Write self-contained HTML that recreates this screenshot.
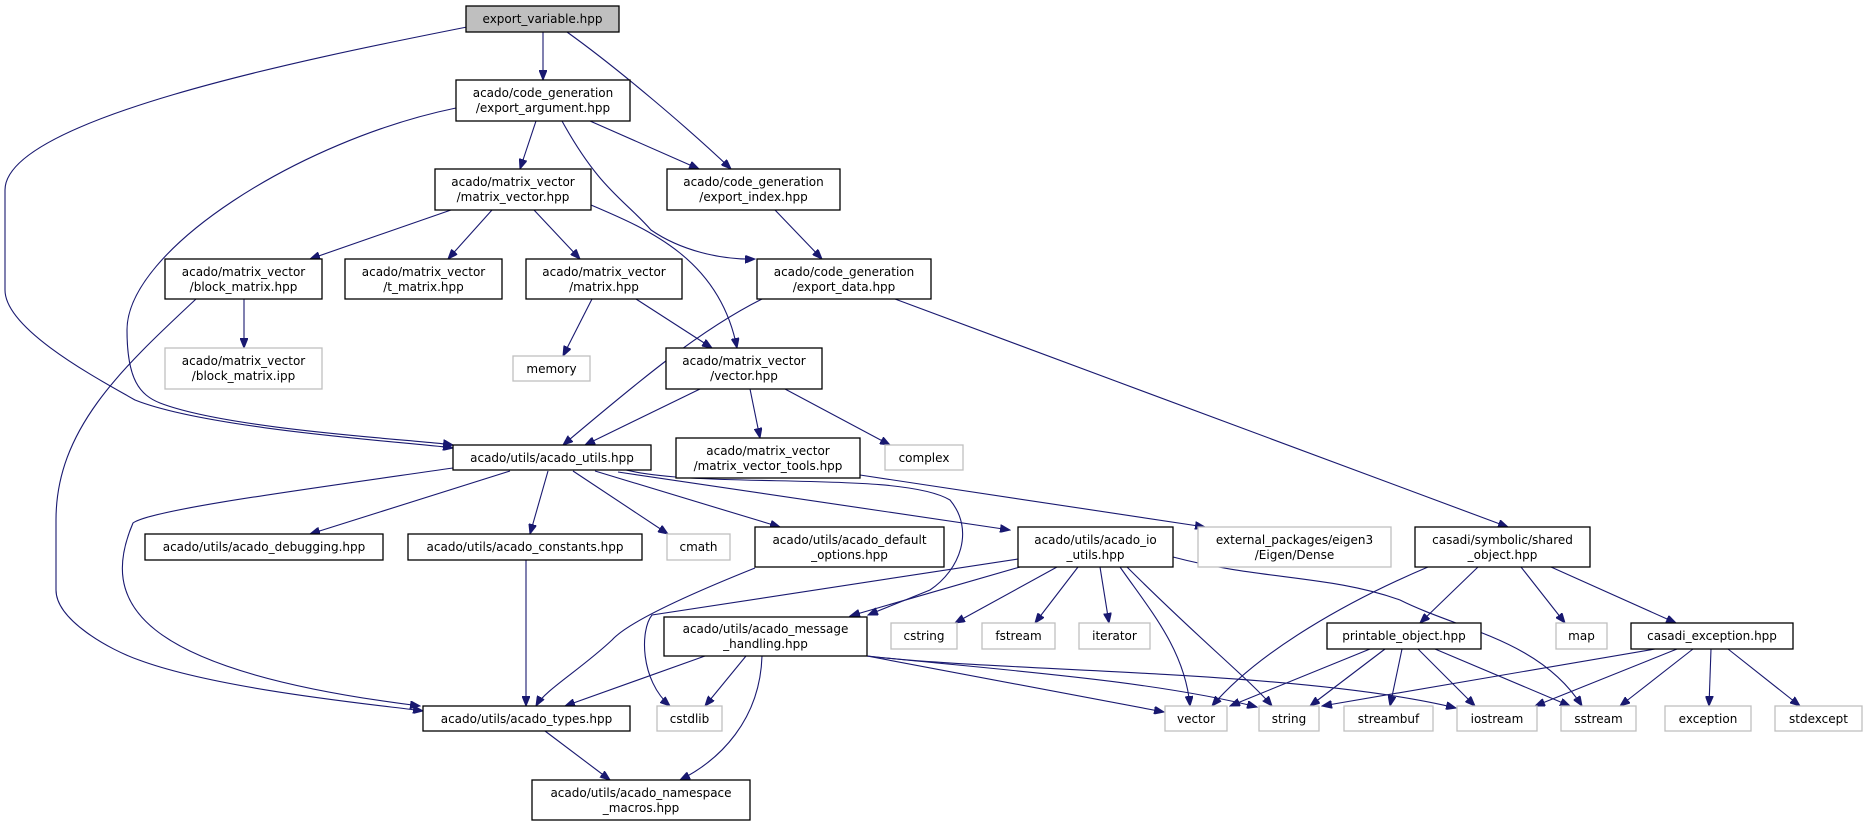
<!DOCTYPE html>
<html><head><meta charset="utf-8"><style>
html,body{margin:0;padding:0;background:#fff;}
svg{display:block;}
text{font-family:"DejaVu Sans","Liberation Sans",sans-serif;font-size:12px;fill:#000;}
.n{fill:#fff;stroke:#000;stroke-width:1.3;}
.g{fill:#fff;stroke:#bfbfbf;stroke-width:1.3;}
.e{fill:none;stroke:#191970;stroke-width:1.1;}
</style></head><body>
<svg width="1867" height="827" viewBox="0 0 1867 827" xmlns="http://www.w3.org/2000/svg">
<defs><marker id="a" markerWidth="11" markerHeight="8" refX="10" refY="4" orient="auto" markerUnits="userSpaceOnUse"><path d="M0,0 L10,4 L0,8 z" fill="#191970" stroke="#191970"/></marker></defs>
<g class="edges" marker-end="url(#a)">
<path class="e" marker-end="url(#a)" d="M543,32 L543,80"/>
<path class="e" marker-end="url(#a)" d="M567,32 C620,70 690,130 731,169"/>
<path class="e" marker-end="url(#a)" d="M467,27 C300,60 5,120 5,190 L5,290 C5,330 100,380 135,400 C210,430 420,443 453,448"/>
<path class="e" marker-end="url(#a)" d="M456,108 C300,140 127,250 127,330 C127,380 140,395 160,403 C230,430 420,440 453,445"/>
<path class="e" marker-end="url(#a)" d="M536,121 L520,169"/>
<path class="e" marker-end="url(#a)" d="M590,121 L699,169"/>
<path class="e" marker-end="url(#a)" d="M562,121 C600,190 625,200 651,230 C680,250 720,260 755,259"/>
<path class="e" marker-end="url(#a)" d="M451,210 L310,259"/>
<path class="e" marker-end="url(#a)" d="M492,210 L448,259"/>
<path class="e" marker-end="url(#a)" d="M534,210 L580,259"/>
<path class="e" marker-end="url(#a)" d="M591,205 C650,230 720,260 737,348"/>
<path class="e" marker-end="url(#a)" d="M775,210 L822,259"/>
<path class="e" marker-end="url(#a)" d="M592,299 L563,356"/>
<path class="e" marker-end="url(#a)" d="M636,299 L712,348"/>
<path class="e" marker-end="url(#a)" d="M244,299 L244,348"/>
<path class="e" marker-end="url(#a)" d="M196,299 C120,370 56,430 56,520 L56,590 C56,620 110,650 139,660 C220,690 380,705 423,711"/>
<path class="e" marker-end="url(#a)" d="M762,299 C700,330 640,380 563,445"/>
<path class="e" marker-end="url(#a)" d="M895,299 L1508,527"/>
<path class="e" marker-end="url(#a)" d="M700,389 L585,445"/>
<path class="e" marker-end="url(#a)" d="M750,389 L760,438"/>
<path class="e" marker-end="url(#a)" d="M785,389 L890,445"/>
<path class="e" marker-end="url(#a)" d="M510,471 L310,534"/>
<path class="e" marker-end="url(#a)" d="M548,471 L530,534"/>
<path class="e" marker-end="url(#a)" d="M573,471 L668,534"/>
<path class="e" marker-end="url(#a)" d="M595,471 L780,527"/>
<path class="e" marker-end="url(#a)" d="M618,472 L1010,530"/>
<path class="e" marker-end="url(#a)" d="M622,469 C700,490 900,470 950,500 C975,530 960,570 930,590 L868,615"/>
<path class="e" marker-end="url(#a)" d="M453,468 C300,490 150,510 133,523 C100,600 130,670 420,706"/>
<path class="e" marker-end="url(#a)" d="M860,475 L1205,527"/>
<path class="e" marker-end="url(#a)" d="M526,560 L526,706"/>
<path class="e" marker-end="url(#a)" d="M755,568 C700,590 630,620 612,640 C580,670 545,690 536,706"/>
<path class="e" marker-end="url(#a)" d="M1018,559 L652,615 C640,630 640,680 670,706"/>
<path class="e" marker-end="url(#a)" d="M1020,567 L850,616"/>
<path class="e" marker-end="url(#a)" d="M1057,567 L955,623"/>
<path class="e" marker-end="url(#a)" d="M1078,567 L1035,623"/>
<path class="e" marker-end="url(#a)" d="M1100,567 L1109,623"/>
<path class="e" marker-end="url(#a)" d="M1120,567 C1150,610 1185,650 1190,706"/>
<path class="e" marker-end="url(#a)" d="M1127,567 C1200,640 1250,680 1272,706"/>
<path class="e" marker-end="url(#a)" d="M1173,557 C1260,580 1330,575 1400,600 C1460,630 1540,640 1582,706"/>
<path class="e" marker-end="url(#a)" d="M1428,567 C1350,600 1260,650 1212,706"/>
<path class="e" marker-end="url(#a)" d="M1478,567 L1420,623"/>
<path class="e" marker-end="url(#a)" d="M1521,567 L1565,623"/>
<path class="e" marker-end="url(#a)" d="M1551,567 L1676,623"/>
<path class="e" marker-end="url(#a)" d="M1370,649 L1230,706"/>
<path class="e" marker-end="url(#a)" d="M1385,649 L1310,706"/>
<path class="e" marker-end="url(#a)" d="M1402,649 L1390,706"/>
<path class="e" marker-end="url(#a)" d="M1418,649 L1475,706"/>
<path class="e" marker-end="url(#a)" d="M1435,649 L1570,706"/>
<path class="e" marker-end="url(#a)" d="M1655,649 L1322,706"/>
<path class="e" marker-end="url(#a)" d="M1677,649 L1535,706"/>
<path class="e" marker-end="url(#a)" d="M1693,649 L1620,706"/>
<path class="e" marker-end="url(#a)" d="M1711,649 L1709,706"/>
<path class="e" marker-end="url(#a)" d="M1728,649 L1800,706"/>
<path class="e" marker-end="url(#a)" d="M705,656 L565,706"/>
<path class="e" marker-end="url(#a)" d="M746,656 L705,706"/>
<path class="e" marker-end="url(#a)" d="M762,656 C760,720 720,760 680,780"/>
<path class="e" marker-end="url(#a)" d="M545,731 L610,780"/>
<path class="e" marker-end="url(#a)" d="M867,656 L1164,712"/>
<path class="e" marker-end="url(#a)" d="M867,656 C1000,670 1150,680 1257,707"/>
<path class="e" marker-end="url(#a)" d="M867,656 C1000,672 1300,670 1456,708"/>
</g>
<g>
<rect x="466" y="6" width="153" height="26" fill="#bfbfbf" stroke="#000" stroke-width="1.3"/><text x="542.5" y="23" text-anchor="middle">export_variable.hpp</text>
<rect class="n" x="456" y="80" width="174" height="41"/><text x="543" y="97" text-anchor="middle">acado/code_generation</text><text x="543" y="112" text-anchor="middle">/export_argument.hpp</text>
<rect class="n" x="435" y="169" width="156" height="41"/><text x="513" y="186" text-anchor="middle">acado/matrix_vector</text><text x="513" y="201" text-anchor="middle">/matrix_vector.hpp</text>
<rect class="n" x="667" y="169" width="173" height="41"/><text x="753.5" y="186" text-anchor="middle">acado/code_generation</text><text x="753.5" y="201" text-anchor="middle">/export_index.hpp</text>
<rect class="n" x="165" y="259" width="157" height="40"/><text x="243.5" y="276" text-anchor="middle">acado/matrix_vector</text><text x="243.5" y="291" text-anchor="middle">/block_matrix.hpp</text>
<rect class="n" x="345" y="259" width="157" height="40"/><text x="423.5" y="276" text-anchor="middle">acado/matrix_vector</text><text x="423.5" y="291" text-anchor="middle">/t_matrix.hpp</text>
<rect class="n" x="526" y="259" width="156" height="40"/><text x="604" y="276" text-anchor="middle">acado/matrix_vector</text><text x="604" y="291" text-anchor="middle">/matrix.hpp</text>
<rect class="n" x="757" y="259" width="174" height="40"/><text x="844" y="276" text-anchor="middle">acado/code_generation</text><text x="844" y="291" text-anchor="middle">/export_data.hpp</text>
<rect class="g" x="165" y="348" width="157" height="41"/><text x="243.5" y="365" text-anchor="middle">acado/matrix_vector</text><text x="243.5" y="380" text-anchor="middle">/block_matrix.ipp</text>
<rect class="g" x="513" y="356" width="77" height="25"/><text x="551.5" y="373" text-anchor="middle">memory</text>
<rect class="n" x="666" y="348" width="156" height="41"/><text x="744" y="365" text-anchor="middle">acado/matrix_vector</text><text x="744" y="380" text-anchor="middle">/vector.hpp</text>
<rect class="n" x="453" y="445" width="198" height="25"/><text x="552" y="462" text-anchor="middle">acado/utils/acado_utils.hpp</text>
<rect class="n" x="676" y="438" width="184" height="40"/><text x="768" y="455" text-anchor="middle">acado/matrix_vector</text><text x="768" y="470" text-anchor="middle">/matrix_vector_tools.hpp</text>
<rect class="g" x="885" y="445" width="78" height="25"/><text x="924" y="462" text-anchor="middle">complex</text>
<rect class="n" x="145" y="534" width="238" height="26"/><text x="264" y="551" text-anchor="middle">acado/utils/acado_debugging.hpp</text>
<rect class="n" x="408" y="534" width="234" height="26"/><text x="525" y="551" text-anchor="middle">acado/utils/acado_constants.hpp</text>
<rect class="g" x="667" y="534" width="63" height="26"/><text x="698.5" y="551" text-anchor="middle">cmath</text>
<rect class="n" x="755" y="527" width="189" height="40"/><text x="849.5" y="544" text-anchor="middle">acado/utils/acado_default</text><text x="849.5" y="559" text-anchor="middle">_options.hpp</text>
<rect class="n" x="1018" y="527" width="155" height="40"/><text x="1095.5" y="544" text-anchor="middle">acado/utils/acado_io</text><text x="1095.5" y="559" text-anchor="middle">_utils.hpp</text>
<rect class="g" x="1198" y="527" width="193" height="40"/><text x="1294.5" y="544" text-anchor="middle">external_packages/eigen3</text><text x="1294.5" y="559" text-anchor="middle">/Eigen/Dense</text>
<rect class="n" x="1415" y="527" width="175" height="40"/><text x="1502.5" y="544" text-anchor="middle">casadi/symbolic/shared</text><text x="1502.5" y="559" text-anchor="middle">_object.hpp</text>
<rect class="n" x="664" y="617" width="203" height="39"/><text x="765.5" y="633" text-anchor="middle">acado/utils/acado_message</text><text x="765.5" y="648" text-anchor="middle">_handling.hpp</text>
<rect class="g" x="891" y="623" width="66" height="26"/><text x="924" y="640" text-anchor="middle">cstring</text>
<rect class="g" x="982" y="623" width="73" height="26"/><text x="1018.5" y="640" text-anchor="middle">fstream</text>
<rect class="g" x="1079" y="623" width="71" height="26"/><text x="1114.5" y="640" text-anchor="middle">iterator</text>
<rect class="n" x="1327" y="623" width="154" height="26"/><text x="1404" y="640" text-anchor="middle">printable_object.hpp</text>
<rect class="g" x="1556" y="623" width="51" height="26"/><text x="1581.5" y="640" text-anchor="middle">map</text>
<rect class="n" x="1631" y="623" width="162" height="26"/><text x="1712" y="640" text-anchor="middle">casadi_exception.hpp</text>
<rect class="n" x="423" y="706" width="207" height="25"/><text x="526.5" y="723" text-anchor="middle">acado/utils/acado_types.hpp</text>
<rect class="g" x="657" y="706" width="65" height="25"/><text x="689.5" y="723" text-anchor="middle">cstdlib</text>
<rect class="g" x="1165" y="706" width="62" height="25"/><text x="1196" y="723" text-anchor="middle">vector</text>
<rect class="g" x="1259" y="706" width="60" height="25"/><text x="1289" y="723" text-anchor="middle">string</text>
<rect class="g" x="1344" y="706" width="89" height="25"/><text x="1388.5" y="723" text-anchor="middle">streambuf</text>
<rect class="g" x="1457" y="706" width="80" height="25"/><text x="1497" y="723" text-anchor="middle">iostream</text>
<rect class="g" x="1561" y="706" width="75" height="25"/><text x="1598.5" y="723" text-anchor="middle">sstream</text>
<rect class="g" x="1665" y="706" width="86" height="25"/><text x="1708" y="723" text-anchor="middle">exception</text>
<rect class="g" x="1775" y="706" width="87" height="25"/><text x="1818.5" y="723" text-anchor="middle">stdexcept</text>
<rect class="n" x="532" y="780" width="218" height="40"/><text x="641" y="797" text-anchor="middle">acado/utils/acado_namespace</text><text x="641" y="812" text-anchor="middle">_macros.hpp</text>
</g>
</svg>
</body></html>
